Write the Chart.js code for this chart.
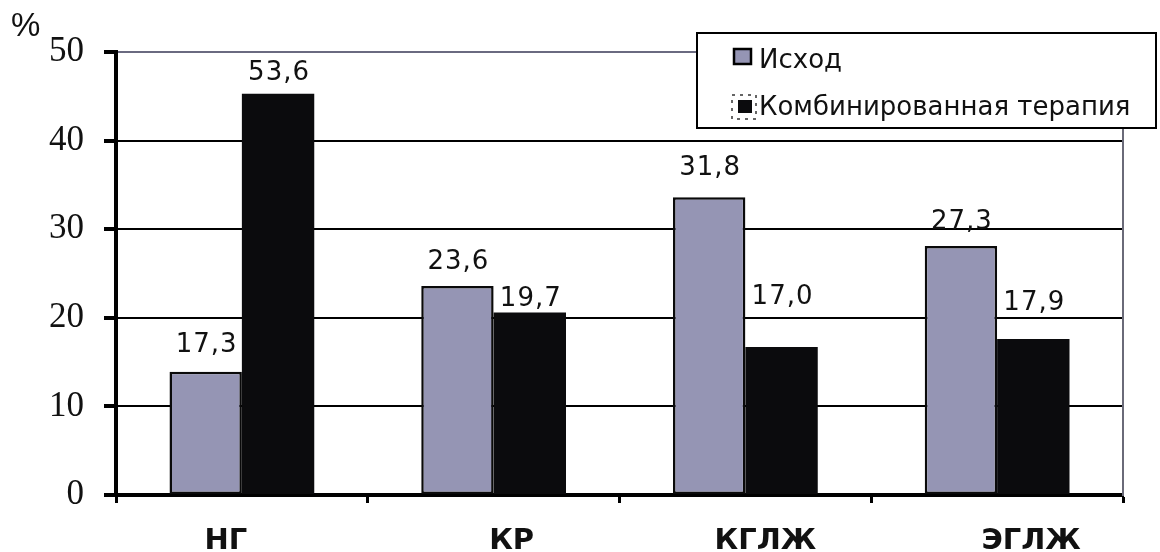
<!DOCTYPE html>
<html>
<head>
<meta charset="utf-8">
<script src="https://cdn.jsdelivr.net/npm/chart.js@4"></script>
<style>
html,body{margin:0;padding:0;background:#fff;}
#wrap{width:1160px;height:552px;position:relative;}
</style>
</head>
<body>
<div id="wrap"><canvas id="c" width="1160" height="552"></canvas></div>
<script>
const categories = ['НГ', 'КР', 'КГЛЖ', 'ЭГЛЖ'];
const seriesNames = ['Исход', 'Комбинированная терапия'];
const baselineValues = [13.9, 23.6, 33.6, 28.1];
const combinedValues = [45.3, 20.6, 16.7, 17.6];
const baselineLabels = ['17,3', '23,6', '31,8', '27,3'];
const combinedLabels = ['53,6', '19,7', '17,0', '17,9'];
const yTicks = [0, 10, 20, 30, 40, 50];
const unitLabel = '%';

const labelPlugin = {
  id: 'barLabels',
  afterDatasetsDraw(chart, args, opts) {
    const ctx = chart.ctx;
    ctx.save();
    ctx.font = '26px "DejaVu Sans", sans-serif';
    ctx.fillStyle = '#111';
    ctx.textAlign = 'center';
    ctx.textBaseline = 'middle';
    if ('letterSpacing' in ctx) ctx.letterSpacing = '1px';
    const sets = [baselineLabels, combinedLabels];
    chart.data.datasets.forEach((ds, di) => {
      const meta = chart.getDatasetMeta(di);
      meta.data.forEach((bar, i) => {
        const off = opts.offsets[di][i];
        ctx.fillText(sets[di][i], bar.x + 1, bar.y - off);
      });
    });
    ctx.restore();
  }
};

const framePlugin = {
  id: 'frame',
  afterDraw(chart, args, opts) {
    const ctx = chart.ctx;
    const a = chart.chartArea;
    ctx.save();
    // category labels
    const xs = chart.scales.x;
    ctx.font = 'bold 29px "DejaVu Sans", sans-serif';
    ctx.fillStyle = '#111';
    ctx.textAlign = 'center';
    ctx.textBaseline = 'alphabetic';
    chart.data.labels.forEach((lab, i) => {
      ctx.fillText(lab, xs.getPixelForValue(i) + opts.catShift[i], opts.catBaseline);
    });
    // right border (grey)
    ctx.strokeStyle = '#6a6a78';
    ctx.lineWidth = 2;
    ctx.beginPath();
    ctx.moveTo(a.right, opts.box.y + opts.box.h);
    ctx.lineTo(a.right, a.bottom + 1);
    ctx.stroke();
    // unit label
    ctx.font = '33px "Liberation Sans", Arial, sans-serif';
    ctx.fillStyle = '#111';
    ctx.textAlign = 'left';
    ctx.textBaseline = 'middle';
    ctx.fillText(unitLabel, 11, 27);
    // legend box
    const b = opts.box;
    ctx.fillStyle = '#fff';
    ctx.fillRect(b.x, b.y, b.w, b.h);
    ctx.strokeStyle = '#000';
    ctx.lineWidth = 2;
    ctx.strokeRect(b.x, b.y, b.w, b.h);
    const ds = chart.data.datasets;
    ctx.font = '26px "DejaVu Sans", sans-serif';
    ctx.textBaseline = 'middle';
    // item 1
    ctx.fillStyle = ds[0].backgroundColor;
    ctx.fillRect(b.x + 37, b.y + 16, 17, 15);
    ctx.strokeStyle = '#000';
    ctx.lineWidth = 2.5;
    ctx.strokeRect(b.x + 37, b.y + 16, 17, 15);
    ctx.fillStyle = '#111';
    ctx.fillText(ds[0].label, b.x + 62, b.y + 28);
    // item 2
    ctx.fillStyle = ds[1].backgroundColor;
    ctx.fillRect(b.x + 41, b.y + 67, 14, 13);
    ctx.setLineDash([3, 5]);
    ctx.lineWidth = 1.5;
    ctx.strokeStyle = '#333';
    ctx.strokeRect(b.x + 35, b.y + 62, 24, 24);
    ctx.setLineDash([]);
    ctx.fillStyle = '#111';
    ctx.fillText(ds[1].label, b.x + 62, b.y + 75);
    ctx.restore();
  }
};

new Chart(document.getElementById('c'), {
  type: 'bar',
  data: {
    labels: categories,
    datasets: [
      {
        label: seriesNames[0],
        data: baselineValues,
        backgroundColor: '#9595b4',
        borderColor: '#0a0a0a',
        borderWidth: 2.5,
        borderSkipped: false,
        categoryPercentage: 0.575,
        barPercentage: 1.0
      },
      {
        label: seriesNames[1],
        data: combinedValues,
        backgroundColor: '#0b0b0d',
        borderColor: '#0b0b0d',
        borderWidth: 0,
        categoryPercentage: 0.575,
        barPercentage: 1.0
      }
    ]
  },
  options: {
    responsive: false,
    animation: false,
    devicePixelRatio: 1,
    layout: { padding: { top: 52, right: 37, left: 0, bottom: 0 } },
    plugins: {
      legend: { display: false },
      tooltip: { enabled: false },
      barLabels: { offsets: [[27, 24, 29, 24], [20, 13, 50, 36]] },
      frame: {
        box: { x: 697, y: 33, w: 459, h: 95 },
        catShift: [-16, 18, 20, 34],
        catBaseline: 549
      }
    },
    scales: {
      y: {
        min: 0,
        max: 50,
        afterBuildTicks(scale) { scale.ticks = yTicks.map(v => ({ value: v })); },
        afterFit(scale) { scale.width = 116; },
        ticks: {
          font: { family: '"Liberation Serif", "Times New Roman", serif', size: 35 },
          color: '#111',
          padding: 20
        },
        grid: {
          color: (c) => (c.tick && c.tick.value === 50) ? '#6a6a80' : '#000',
          lineWidth: 2,
          tickLength: 12,
          tickColor: '#000',
          tickWidth: 4
        },
        border: { display: true, color: '#000', width: 4 }
      },
      x: {
        afterFit(scale) { scale.height = 57; },
        ticks: { display: false },
        grid: {
          offset: true,
          drawOnChartArea: false,
          tickLength: 8,
          tickColor: '#000',
          tickWidth: 3
        },
        border: { display: true, color: '#000', width: 4 }
      }
    }
  },
  plugins: [labelPlugin, framePlugin]
});
</script>
</body>
</html>
